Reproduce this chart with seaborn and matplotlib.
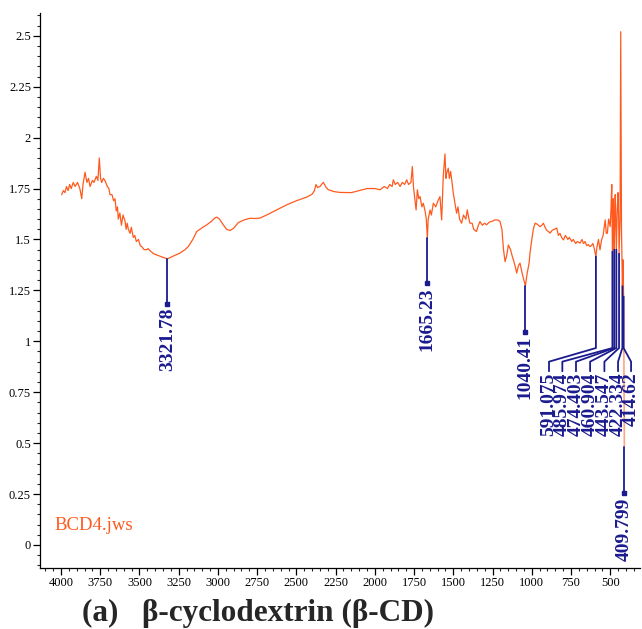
import numpy as np
import pandas as pd
import matplotlib
matplotlib.use("Agg")
import matplotlib.pyplot as plt
import seaborn as sns
from matplotlib.ticker import MultipleLocator, FuncFormatter

# spectrum (wavenumber cm-1, intensity)
wavenumber = [
    3996, 3985, 3975, 3965, 3955, 3945, 3935, 3922, 3910, 3895,
    3880, 3868, 3860, 3847, 3835, 3825, 3815, 3800, 3790, 3775,
    3765, 3756, 3748, 3741, 3730, 3720, 3705, 3695, 3688, 3675,
    3665, 3656, 3648, 3640, 3635, 3625, 3615, 3605, 3592, 3585,
    3578, 3571, 3560, 3552, 3539, 3530, 3520, 3507, 3495, 3486,
    3470, 3455, 3445, 3433, 3410, 3390, 3360, 3321.78, 3280, 3242,
    3210, 3189, 3160, 3135, 3100, 3071, 3040, 3020, 3008, 2990,
    2966, 2945, 2923, 2900, 2870, 2830, 2795, 2760, 2732, 2690,
    2647, 2600, 2562, 2500, 2434, 2400, 2385, 2375, 2365, 2349,
    2335, 2328, 2310, 2296, 2260, 2222, 2150, 2100, 2050, 2000,
    1967, 1940, 1920, 1905, 1890, 1882, 1870, 1855, 1839, 1825,
    1810, 1797, 1785, 1770, 1761, 1754, 1745, 1737, 1729, 1720,
    1712, 1700, 1691, 1680, 1672, 1665.23, 1660, 1648, 1640, 1627,
    1612, 1595, 1585, 1574, 1564, 1553, 1547, 1542, 1532, 1525,
    1517, 1508, 1500, 1490, 1479, 1470, 1460, 1447, 1435, 1420,
    1411, 1400, 1394, 1380, 1370, 1352, 1340, 1330, 1315, 1300,
    1288, 1270, 1250, 1235, 1215, 1202, 1190, 1180, 1170, 1160,
    1149, 1135, 1125, 1117, 1106, 1096, 1085, 1075, 1060, 1050,
    1040.41, 1030, 1017, 1010, 1000, 990, 979, 965, 947, 935,
    926, 915, 905, 895, 883, 870, 855, 841, 830, 820,
    810, 798, 785, 770, 760, 745, 735, 720, 710, 692,
    680, 670, 660, 650, 640, 628, 620, 610, 600, 591.075,
    585, 575, 565, 555, 545, 532, 525, 518, 510, 500,
    495, 490, 485.974, 480, 477, 474.403, 468, 465, 460.904, 455,
    450, 446, 443.547, 437, 433, 428, 422.334, 418, 414.62, 409.799,
]
intensity = [
    1.72, 1.74, 1.73, 1.76, 1.74, 1.77, 1.75, 1.78, 1.76, 1.78,
    1.75, 1.70, 1.77, 1.83, 1.78, 1.80, 1.76, 1.79, 1.78, 1.81,
    1.79, 1.90, 1.80, 1.78, 1.80, 1.79, 1.76, 1.75, 1.72, 1.72,
    1.69, 1.70, 1.64, 1.66, 1.60, 1.63, 1.57, 1.62, 1.59, 1.55,
    1.58, 1.55, 1.53, 1.56, 1.51, 1.52, 1.49, 1.50, 1.47, 1.465,
    1.45, 1.45, 1.455, 1.445, 1.43, 1.424, 1.415, 1.405, 1.42, 1.433,
    1.45, 1.465, 1.50, 1.539, 1.558, 1.572, 1.59, 1.605, 1.61, 1.60,
    1.572, 1.55, 1.544, 1.555, 1.583, 1.597, 1.604, 1.603, 1.605, 1.62,
    1.637, 1.655, 1.67, 1.69, 1.708, 1.722, 1.74, 1.77, 1.755, 1.76,
    1.775, 1.78, 1.755, 1.744, 1.735, 1.731, 1.73, 1.74, 1.75, 1.75,
    1.744, 1.76, 1.75, 1.77, 1.76, 1.793, 1.77, 1.78, 1.76, 1.78,
    1.77, 1.793, 1.77, 1.78, 1.858, 1.76, 1.70, 1.645, 1.744, 1.70,
    1.711, 1.66, 1.678, 1.64, 1.60, 1.506, 1.60, 1.645, 1.62, 1.678,
    1.66, 1.695, 1.71, 1.596, 1.809, 1.92, 1.80, 1.826, 1.85, 1.80,
    1.834, 1.78, 1.727, 1.68, 1.629, 1.66, 1.60, 1.58, 1.62, 1.60,
    1.645, 1.60, 1.58, 1.58, 1.55, 1.539, 1.57, 1.588, 1.57, 1.58,
    1.572, 1.585, 1.59, 1.596, 1.595, 1.588, 1.55, 1.45, 1.391, 1.42,
    1.473, 1.45, 1.42, 1.40, 1.37, 1.335, 1.37, 1.384, 1.33, 1.30,
    1.272, 1.33, 1.384, 1.44, 1.498, 1.55, 1.58, 1.575, 1.563, 1.57,
    1.58, 1.56, 1.545, 1.54, 1.531, 1.545, 1.55, 1.556, 1.52, 1.53,
    1.51, 1.498, 1.52, 1.50, 1.51, 1.49, 1.50, 1.48, 1.49, 1.482,
    1.50, 1.48, 1.49, 1.47, 1.475, 1.465, 1.47, 1.48, 1.45, 1.416,
    1.46, 1.50, 1.449, 1.498, 1.52, 1.596, 1.53, 1.531, 1.60, 1.563,
    1.65, 1.77, 1.44, 1.70, 1.60, 1.45, 1.72, 1.62, 1.45, 1.65,
    1.73, 1.60, 1.43, 1.60, 2.52, 1.55, 1.27, 1.40, 1.22, 0.483,
]

single_peaks = [3321.78, 1665.23, 1040.41, 409.799]
single_labels = ["3321.78", "1665.23", "1040.41", "409.799"]
cluster_peaks = [591.075, 485.974, 474.403, 460.904, 443.547, 422.334, 414.62]
cluster_labels = ["591.075", "485.974", "474.403", "460.904", "443.547", "422.334", "414.62"]

# layout of the peak pickers
single_marker_y = [1.184, 1.285, 1.048, 0.254]
cluster_text_x = [890, 805, 718, 628, 537, 450, 367]
junction_y, stub_top, stub_bottom = 0.967, 0.90, 0.853

orange = "#ff5a1e"
salmon = "#ffa585"
navy = "#1b1b8f"

df = pd.DataFrame({"wn": wavenumber, "abs": intensity})
peak_y = dict(zip(df["wn"], df["abs"]))

sns.set_theme(style="ticks")
plt.rcParams["font.family"] = ["Liberation Serif", "DejaVu Serif"]

fig = plt.figure(figsize=(6.42, 6.29), dpi=100)
ax = fig.add_axes([0.0623, 0.097, 0.9346, 0.883])

main = df.iloc[:-1]
sns.lineplot(data=main, x="wn", y="abs", sort=False, estimator=None,
             color=orange, lw=0.9, ax=ax)
ax.plot(df["wn"].iloc[-2:], df["abs"].iloc[-2:], color=salmon, lw=1.2)

for wn, lab, my in zip(single_peaks, single_labels, single_marker_y):
    ax.plot([wn, wn], [peak_y[wn], my], color=navy, lw=1.3)
    ax.plot(wn, my, marker="s", ms=3, color=navy)
    ax.text(wn, my - 0.02, lab, rotation=90, ha="center", va="top",
            fontsize=14, fontweight="bold", color=navy)

for wn, lab, tx in zip(cluster_peaks, cluster_labels, cluster_text_x):
    ax.plot([wn, wn, tx, tx], [peak_y[wn], junction_y, stub_top, stub_bottom],
            color=navy, lw=1.3)
    ax.text(tx, stub_bottom - 0.005, lab, rotation=90, ha="center", va="top",
            fontsize=14, fontweight="bold", color=navy)

ax.text(4045, 0.074, "BCD4.jws", color=orange, fontsize=13.5, va="baseline")

ax.set_xlim(4134, 310)
ax.set_ylim(-0.113, 2.614)
ax.xaxis.set_major_locator(MultipleLocator(250))
ax.xaxis.set_minor_locator(MultipleLocator(50))
ax.yaxis.set_major_locator(MultipleLocator(0.25))
ax.yaxis.set_minor_locator(MultipleLocator(0.05))
ax.yaxis.set_major_formatter(FuncFormatter(lambda v, p: "%g" % round(v, 2)))
ax.set_xticks([v for v in range(4000, 499, -250)])
ax.tick_params(which="major", length=5, width=0.9, labelsize=9, pad=1.5, colors="black")
ax.tick_params(which="minor", length=2.5, width=0.8)
ax.set_xlabel("")
ax.set_ylabel("")
for s in ["top", "right"]:
    ax.spines[s].set_visible(False)
for s in ["left", "bottom"]:
    ax.spines[s].set_linewidth(0.9)
    ax.spines[s].set_color("black")

fig.text(0.402, 0.002, "(a)   β-cyclodextrin (β-CD)", ha="center", va="bottom",
         fontsize=22.5, fontweight="bold")

fig.savefig("out.png", dpi=100)
